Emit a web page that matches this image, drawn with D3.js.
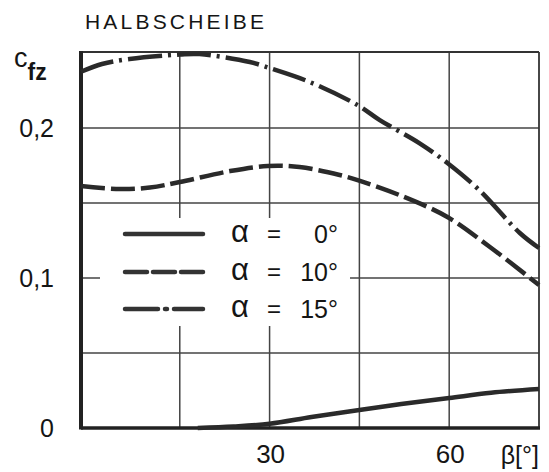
<!DOCTYPE html>
<html>
<head>
<meta charset="utf-8">
<script src="https://cdn.jsdelivr.net/npm/d3@7"></script>
<style>
  html, body { margin: 0; padding: 0; background: #fff; }
  svg { display: block; }
  text { font-family: "Liberation Sans", Arial, sans-serif; fill: #151515; }
</style>
</head>
<body>
<svg id="chart" width="549" height="472"></svg>
<script>
// Angle of yaw β in degrees and side-force coefficient c_fz per angle of attack α
const beta0  = [18, 24, 30, 37, 45, 52, 60, 67, 75];
const cfz0   = [0, 0.001, 0.0028, 0.0073, 0.012, 0.016, 0.020, 0.0235, 0.026];

const beta10 = [-1.5, 5, 10, 15, 23.4, 29.7, 35, 41.7, 44.7, 51.7, 59.7, 66.8, 75];
const cfz10  = [0.1613, 0.1593, 0.1603, 0.164, 0.1713, 0.1747, 0.174, 0.1687, 0.1653, 0.1553, 0.1407, 0.1207, 0.0953];

const beta15 = [-1.5, 2, 6.6, 15, 18.3, 26.7, 30, 36.7, 44.7, 48.4, 55, 59.7, 65, 71.8, 75];
const cfz15  = [0.2375, 0.2427, 0.246, 0.249, 0.2493, 0.244, 0.240, 0.2307, 0.2153, 0.2053, 0.19, 0.1767, 0.1587, 0.13, 0.12];

const xGrid = [15, 30, 45, 60];
const xTickLabels = [30, 60];
const yGrid = [0.05, 0.1, 0.15, 0.2];
const yTickLabels = [[0, "0"], [0.1, "0,1"], [0.2, "0,2"]];

const legendLabels = ["0°", "10°", "15°"];
const dashes = [null, "24 6", "34 6 3 6"];

const svg = d3.select("#chart");
const plotL = 81, plotR = 539, plotT = 52, plotB = 428;

const x = d3.scaleLinear().domain([-1.5, 75]).range([plotL, plotR]);
const y = d3.scaleLinear().domain([0, 0.2507]).range([plotB, plotT]);

// grid
const grid = svg.append("g").attr("stroke", "#444").attr("stroke-width", 1.5);
grid.selectAll("line.v").data(xGrid).join("line").attr("class", "v")
  .attr("x1", d => x(d)).attr("x2", d => x(d))
  .attr("y1", plotT).attr("y2", plotB);
grid.selectAll("line.h").data(yGrid).join("line").attr("class", "h")
  .attr("x1", plotL).attr("x2", plotR)
  .attr("y1", d => y(d)).attr("y2", d => y(d));

// frame
svg.append("line").attr("x1", plotL).attr("x2", plotR).attr("y1", plotT).attr("y2", plotT)
  .attr("stroke", "#333").attr("stroke-width", 2);
svg.append("line").attr("x1", plotR).attr("x2", plotR).attr("y1", plotT).attr("y2", plotB)
  .attr("stroke", "#333").attr("stroke-width", 1.8);
svg.append("line").attr("x1", plotL).attr("x2", plotR + 1).attr("y1", plotB).attr("y2", plotB)
  .attr("stroke", "#222").attr("stroke-width", 3.5);
svg.append("line").attr("x1", plotL).attr("x2", plotL).attr("y1", plotT - 1).attr("y2", plotB + 1.5)
  .attr("stroke", "#222").attr("stroke-width", 4);

// white legend panel over the grid
svg.append("rect").attr("x", 100).attr("y", 218).attr("width", 250).attr("height", 108)
  .attr("fill", "#fff");

// curves
const line = d3.line().x(d => x(d[0])).y(d => y(d[1])).curve(d3.curveCatmullRom.alpha(0.5));
const series = [
  d3.zip(beta0, cfz0),
  d3.zip(beta10, cfz10),
  d3.zip(beta15, cfz15)
];
series.forEach((s, i) => {
  svg.append("path").datum(s).attr("d", line)
    .attr("fill", "none").attr("stroke", "#2a2a2a").attr("stroke-width", 4.5)
    .attr("stroke-dasharray", dashes[i]);
});

// legend
const legY = [234, 272, 309];
legY.forEach((ly, i) => {
  svg.append("line").attr("x1", 125).attr("x2", 203).attr("y1", ly).attr("y2", ly)
    .attr("stroke", "#333").attr("stroke-width", 4.5).attr("stroke-linecap", "round")
    .attr("stroke-dasharray", i === 1 ? "22 6" : i === 2 ? "33 7 2 7" : null);
  svg.append("text").attr("x", 231).attr("y", ly + 8).attr("font-size", 31)
    .attr("font-family", "DejaVu Sans").attr("font-weight", 300).text("α");
  svg.append("text").attr("x", 267).attr("y", ly + 8).attr("font-size", 24).text("=");
  svg.append("text").attr("x", 338).attr("y", ly + 9).attr("font-size", 25)
    .attr("text-anchor", "end").text(legendLabels[i]);
});

// y labels
svg.selectAll("text.yl").data(yTickLabels).join("text").attr("class", "yl")
  .attr("x", 54).attr("y", d => y(d[0]) + 9).attr("text-anchor", "end")
  .attr("font-size", 25).text(d => d[1]);

const cl = svg.append("text").attr("x", 14).attr("y", 67).attr("font-size", 27);
cl.append("tspan").text("c");
cl.append("tspan").attr("dy", 13).attr("font-size", 23).attr("font-weight", "bold").text("fz");

// x labels
svg.selectAll("text.xl").data(xTickLabels).join("text").attr("class", "xl")
  .attr("x", d => x(d) + 1).attr("y", 463).attr("text-anchor", "middle")
  .attr("font-size", 26).text(d => d);
svg.append("text").attr("x", 539).attr("y", 464).attr("text-anchor", "end")
  .attr("font-size", 25).text("β[°]");

// title
svg.append("text").attr("x", 85).attr("y", 29).attr("font-size", 21)
  .attr("letter-spacing", 3.2).text("HALBSCHEIBE");
</script>
</body>
</html>
